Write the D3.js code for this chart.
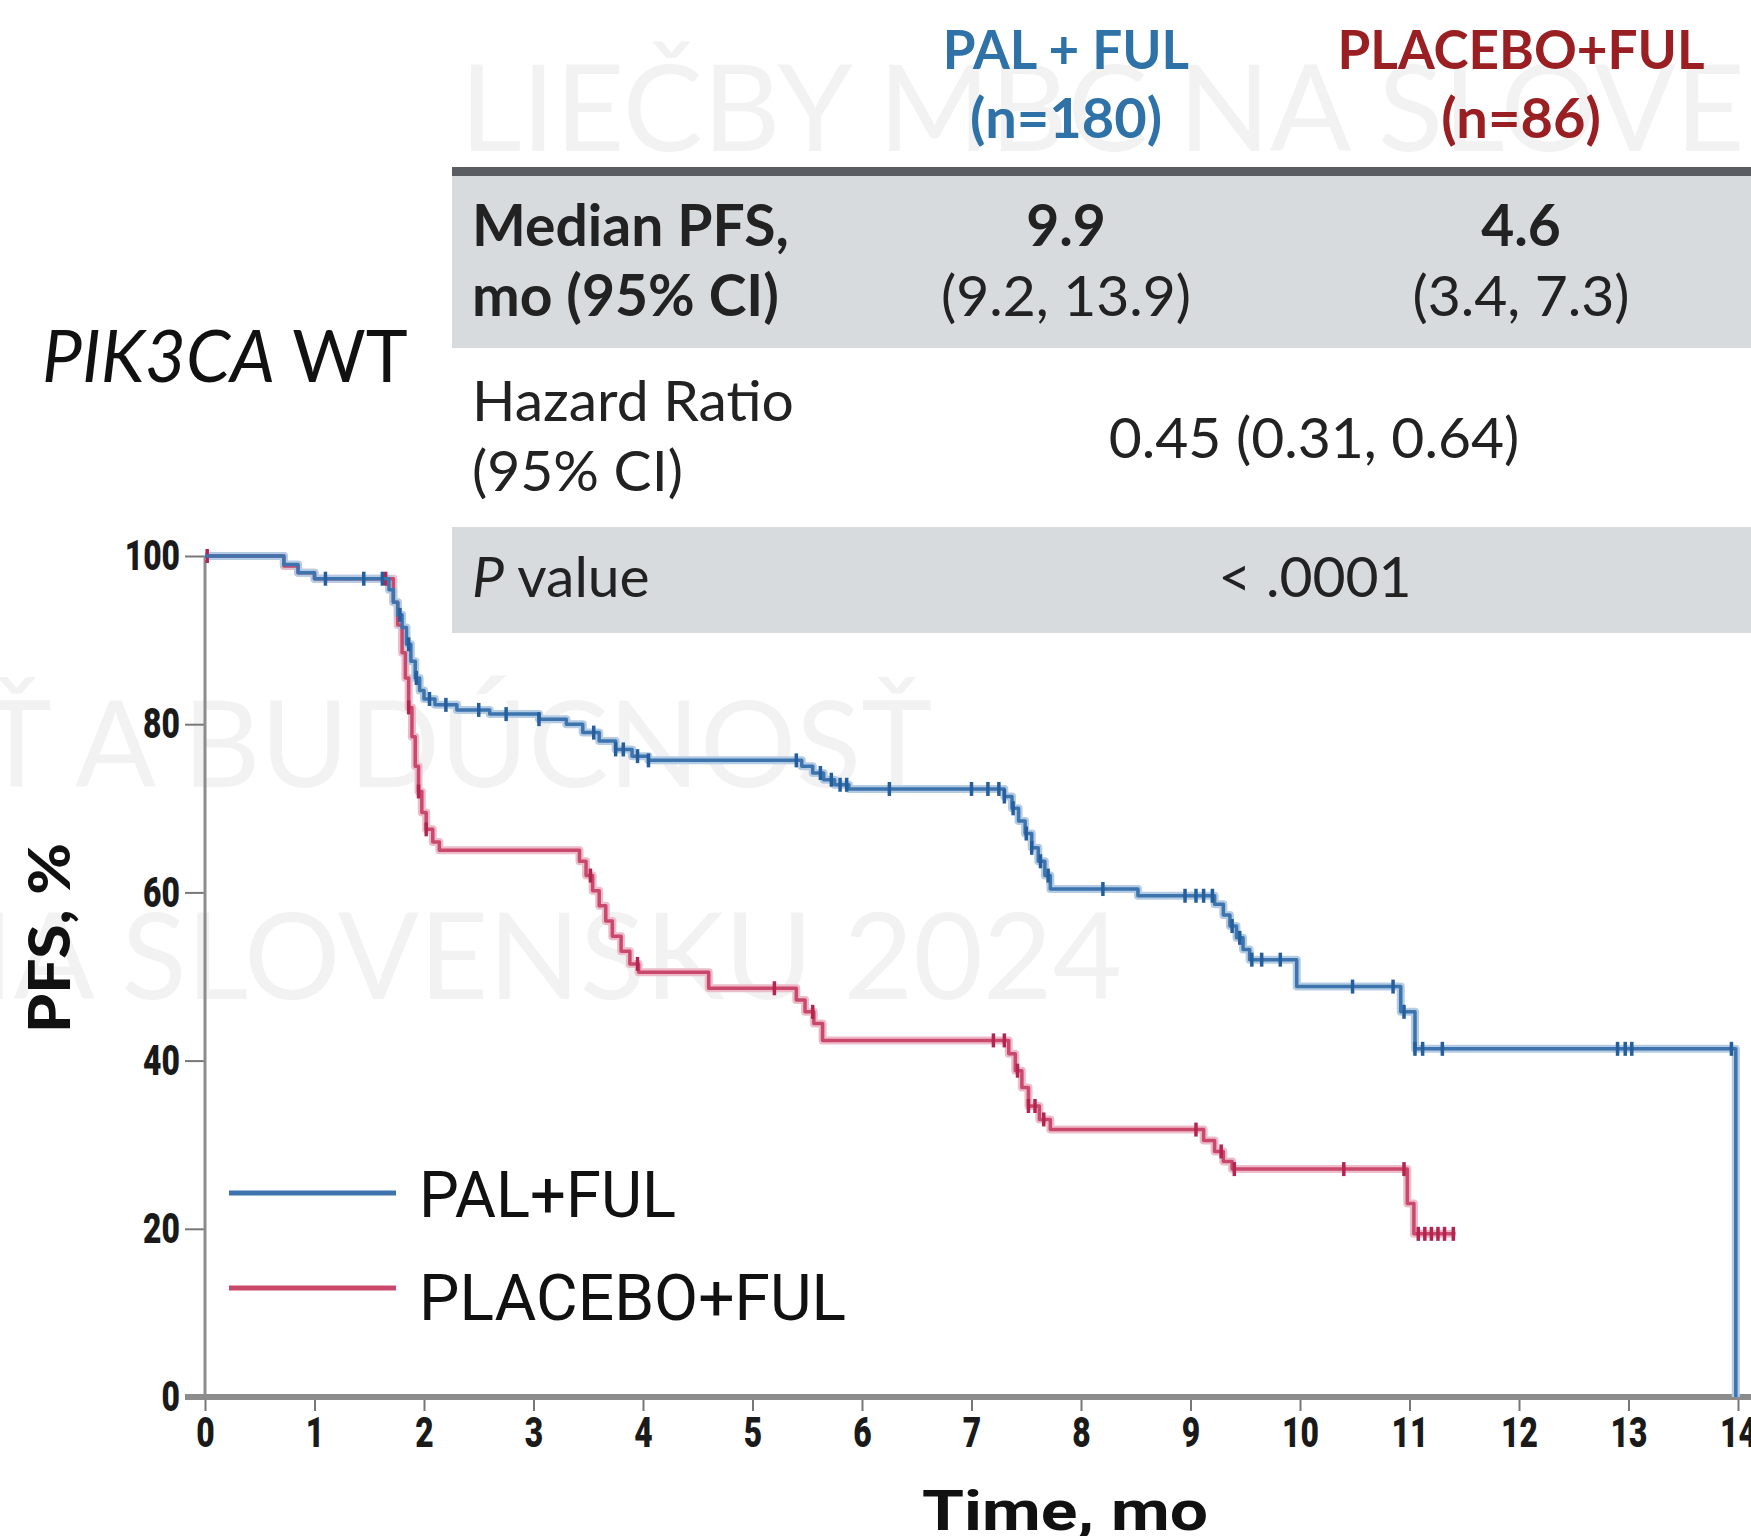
<!DOCTYPE html>
<meta charset="utf-8" />
<html>
<head>
<title>PIK3CA WT - PFS</title>
<script src="https://cdn.jsdelivr.net/npm/d3@7/dist/d3.min.js"></script>
<style>
  body { margin: 0; background: #fff; }
  svg text { font-family: "Lato", "Open Sans", sans-serif; }
</style>
</head>
<body>
<div id="viz"></div>
<script>

// Kaplan-Meier steps (time in months, PFS %)
var palTimes = [0, 0.72, 0.85, 1.0, 1.68, 1.72, 1.76, 1.8, 1.84, 1.88, 1.92, 1.96, 2.0, 2.1, 2.3, 2.6, 3.05, 3.3, 3.45, 3.6, 3.75, 3.9, 4.05,
                5.45, 5.55, 5.65, 5.75, 5.88, 7.3, 7.37, 7.43, 7.49, 7.55, 7.61, 7.67, 7.72, 8.52,
                9.22, 9.3, 9.36, 9.42, 9.48, 9.54, 9.97, 10.92, 11.05, 13.98];
var palSurv  = [100, 99, 98, 97.3, 96, 94.5, 93, 91.5, 89.5, 87.5, 85.5, 84, 83, 82.3, 81.7, 81.2, 80.6, 80, 79, 78, 77, 76.2, 75.7,
                75, 74.2, 73.4, 72.8, 72.3, 71.4, 70, 68.5, 67, 65.3, 63.7, 62, 60.4, 59.6,
                58.6, 57.3, 56, 54.6, 53.2, 52, 48.8, 45.8, 41.4, 0];
var palCensor = [1.1, 1.45, 1.62, 1.78, 1.86, 1.93, 2.05, 2.2, 2.5, 2.75, 3.05, 3.55, 3.75, 3.82, 3.95, 4.05,
                 5.4, 5.62, 5.72, 5.8, 5.86, 6.25, 7.0, 7.15, 7.25, 7.3, 7.38, 7.5, 7.55, 7.63, 7.7,
                 8.2, 8.95, 9.05, 9.12, 9.2, 9.38, 9.45, 9.56, 9.65, 9.82, 10.48, 10.85, 10.95,
                 11.05, 11.12, 11.3, 12.9, 12.97, 13.03, 13.94];

var plaTimes = [0, 0.72, 0.85, 1.0, 1.72, 1.76, 1.8, 1.83, 1.86, 1.89, 1.92, 1.95, 1.98, 2.02, 2.08, 2.14,
                3.42, 3.48, 3.54, 3.6, 3.66, 3.72, 3.8, 3.88, 3.96, 4.6, 5.4, 5.48, 5.56, 5.64,
                7.34, 7.4, 7.46, 7.52, 7.62, 7.72, 9.12, 9.22, 9.3, 9.38, 10.98, 11.04];
var plaSurv  = [100, 98.8, 98, 97.3, 94.5, 91.8, 88.5, 85.5, 82, 78.5, 75, 72, 69.5, 67.5, 66, 65,
                63.7, 62, 60.2, 58.4, 56.6, 54.8, 53, 51.5, 50.5, 48.6, 47.2, 45.8, 44.4, 42.4,
                40.8, 38.8, 36.8, 34.6, 33, 31.8, 30.5, 29.2, 28, 27.1, 23, 19.4];
var plaCensor = [0.02, 1.65, 1.86, 1.95, 2.02, 3.52, 3.95, 5.2, 5.55, 7.2, 7.3, 7.42, 7.52, 7.58, 7.66,
                 9.05, 9.28, 9.4, 10.4, 10.95, 11.08, 11.14, 11.2, 11.26, 11.32, 11.4];
var plaEnd = 11.42;

var xTicks = d3.range(0, 15);
var yTicks = [0, 20, 40, 60, 80, 100];

var arms = ["PAL + FUL", "PLACEBO+FUL"];
var armN = ["(n=180)", "(n=86)"];
var armLegend = ["PAL+FUL", "PLACEBO+FUL"];
var medianPFS = ["9.9", "4.6"];
var medianCI = ["(9.2, 13.9)", "(3.4, 7.3)"];
var hazardRatio = "0.45 (0.31, 0.64)";
var pValue = "< .0001";

var width = 1751,
    height = 1536;

var blue = "#3d74ad", blueDark = "#245e9c", blueHalo = "#b3cbe3";
var red = "#c9486c", redDark = "#b42450", redHalo = "#ecbccb";

var svg = d3.select("#viz").append("svg")
    .attr("width", width)
    .attr("height", height);

svg.append("rect").attr("width", width).attr("height", height).attr("fill", "#fff");

// faint watermark behind everything
var wm = svg.append("g")
    .attr("fill", "#f2f2f2")
    .style("font-family", "Roboto, sans-serif")
    .style("font-size", "120px");
wm.append("text").attr("x", 460).attr("y", 151).text("LIEČBY MBC NA SLOVENSKU");
wm.append("text").attr("x", 932).attr("y", 787).attr("text-anchor", "end").text("SÚČASNOSŤ A BUDÚCNOSŤ");
wm.append("text").attr("x", 1122).attr("y", 999).attr("text-anchor", "end").text("NA SLOVENSKU 2024");

var x = d3.scaleLinear().domain([0, 14]).range([205, 1738]);
var y = d3.scaleLinear().domain([0, 100]).range([1397, 556]);

// table
var colX = [1066, 1521];
var table = svg.append("g");
table.append("rect").attr("x", 452).attr("y", 176).attr("width", width - 452).attr("height", 172).attr("fill", "#d7dbde");
table.append("rect").attr("x", 452).attr("y", 527).attr("width", width - 452).attr("height", 106).attr("fill", "#d7dbde");
table.append("rect").attr("x", 452).attr("y", 167).attr("width", width - 452).attr("height", 9).attr("fill", "#5a5e62");

table.selectAll("text.arm")
  .data(arms)
  .enter().append("text")
    .attr("class", "arm")
    .attr("x", function(d, i) { return colX[i]; })
    .attr("y", 69)
    .attr("text-anchor", "middle")
    .attr("fill", function(d, i) { return i == 0 ? "#2f72a8" : "#9a1f22"; })
    .style("font-weight", 700)
    .style("font-size", "53px")
    .text(function(d) { return d; });

table.selectAll("text.n")
  .data(armN)
  .enter().append("text")
    .attr("class", "n")
    .attr("x", function(d, i) { return colX[i]; })
    .attr("y", 138)
    .attr("text-anchor", "middle")
    .attr("fill", function(d, i) { return i == 0 ? "#2f72a8" : "#9a1f22"; })
    .style("font-weight", 700)
    .style("font-size", "56px")
    .text(function(d) { return d; });

var body = table.append("g").attr("fill", "#222").style("font-size", "57px");
body.append("text").attr("x", 472).attr("y", 246).style("font-weight", 700).text("Median PFS,");
body.append("text").attr("x", 472).attr("y", 316).style("font-weight", 700).text("mo (95% CI)");
body.selectAll("text.med")
  .data(medianPFS)
  .enter().append("text")
    .attr("class", "med")
    .attr("x", function(d, i) { return colX[i]; })
    .attr("y", 246)
    .attr("text-anchor", "middle")
    .style("font-weight", 700)
    .text(function(d) { return d; });
body.selectAll("text.ci")
  .data(medianCI)
  .enter().append("text")
    .attr("class", "ci")
    .attr("x", function(d, i) { return colX[i]; })
    .attr("y", 316)
    .attr("text-anchor", "middle")
    .text(function(d) { return d; });

body.append("text").attr("x", 472).attr("y", 421).text("Hazard Ratio");
body.append("text").attr("x", 472).attr("y", 491).text("(95% CI)");
body.append("text").attr("x", 1314).attr("y", 458).attr("text-anchor", "middle").text(hazardRatio);

var pv = body.append("text").attr("x", 472).attr("y", 597);
pv.append("tspan").style("font-style", "italic").text("P");
pv.append("tspan").text(" value");
body.append("text").attr("x", 1315).attr("y", 597).attr("text-anchor", "middle").text(pValue);

// subgroup title
var ttl = svg.append("text").attr("x", 42).attr("y", 382).attr("fill", "#111").style("font-size", "71px");
ttl.append("tspan").style("font-style", "italic").text("PIK3CA");
ttl.append("tspan").text(" WT");

// axes
var gx = svg.append("g")
    .attr("transform", "translate(0," + y(0) + ")")
    .call(d3.axisBottom(x).tickValues(xTicks).tickSize(14).tickPadding(4).tickFormat(d3.format("d")));
var gy = svg.append("g")
    .attr("transform", "translate(" + x(0) + ",0)")
    .call(d3.axisLeft(y).tickValues(yTicks).tickSize(20).tickPadding(6));

gx.select(".domain").remove();
gy.select(".domain").remove();
gx.selectAll(".tick line").attr("stroke", "#777").attr("stroke-width", 2);
gy.selectAll(".tick line").attr("stroke", "#777").attr("stroke-width", 2);

gx.selectAll(".tick text")
    .attr("fill", "#1a1a1a")
    .style("font-family", "Roboto, sans-serif")
    .style("font-weight", 900)
    .style("font-size", "43px")
    .attr("dy", "0.75em")
    .attr("x", 0)
    .attr("transform", "scale(0.74,1)");
gy.selectAll(".tick text")
    .attr("fill", "#1a1a1a")
    .style("font-family", "Roboto, sans-serif")
    .style("font-weight", 900)
    .style("font-size", "43px")
    .attr("x", 0)
    .attr("transform", "translate(-25,0) scale(0.74,1)");

svg.append("line")
    .attr("x1", 185).attr("x2", width)
    .attr("y1", y(0)).attr("y2", y(0))
    .attr("stroke", "#8c8c8c").attr("stroke-width", 6);
svg.append("line")
    .attr("x1", x(0)).attr("x2", x(0))
    .attr("y1", y(100)).attr("y2", y(0))
    .attr("stroke", "#8c8c8c").attr("stroke-width", 3);

// axis titles
svg.append("text")
    .attr("transform", "translate(70," + 938 + ") rotate(-90)")
    .attr("text-anchor", "middle")
    .attr("fill", "#111")
    .style("font-weight", 900)
    .style("font-size", "58px")
    .attr("textLength", 190)
    .attr("lengthAdjust", "spacingAndGlyphs")
    .text("PFS, %");
svg.append("text")
    .attr("x", 1065).attr("y", 1530)
    .attr("text-anchor", "middle")
    .attr("fill", "#111")
    .style("font-family", "Roboto, sans-serif")
    .style("font-weight", 700)
    .style("font-size", "56px")
    .attr("textLength", 286)
    .attr("lengthAdjust", "spacingAndGlyphs")
    .text("Time, mo");

// curves
function survAt(times, surv, t) {
  var i = d3.bisectRight(times, t) - 1;
  return surv[Math.max(i, 0)];
}

var step = d3.line()
    .x(function(d) { return x(d[0]); })
    .y(function(d) { return y(d[1]); })
    .curve(d3.curveStepAfter);

var palPts = palTimes.map(function(t, i) { return [t, palSurv[i]]; });
var plaPts = plaTimes.map(function(t, i) { return [t, plaSurv[i]]; });
plaPts.push([plaEnd, plaSurv[plaSurv.length - 1]]);

var curves = [
  {pts: palPts, times: palTimes, surv: palSurv, censor: palCensor, c: blue, dark: blueDark, halo: blueHalo},
  {pts: plaPts, times: plaTimes, surv: plaSurv, censor: plaCensor, c: red, dark: redDark, halo: redHalo}
];

var g = svg.append("g");
curves.slice().reverse().forEach(function(cv) {
  g.append("path").attr("d", step(cv.pts)).attr("fill", "none")
    .attr("stroke", cv.halo).attr("stroke-width", 8).attr("stroke-linejoin", "round");
});
curves.slice().reverse().forEach(function(cv) {
  g.append("path").attr("d", step(cv.pts)).attr("fill", "none")
    .attr("stroke", cv.c).attr("stroke-width", 3.5).attr("stroke-linejoin", "round");
  g.selectAll(null)
    .data(cv.censor)
    .enter().append("line")
      .attr("x1", function(d) { return x(d); })
      .attr("x2", function(d) { return x(d); })
      .attr("y1", function(d) { return y(survAt(cv.times, cv.surv, d)) - 7; })
      .attr("y2", function(d) { return y(survAt(cv.times, cv.surv, d)) + 7; })
      .attr("stroke", cv.dark)
      .attr("stroke-width", 3.5);
});

// legend
var leg = svg.append("g");
leg.selectAll("line")
  .data(armLegend)
  .enter().append("line")
    .attr("x1", 229).attr("x2", 396)
    .attr("y1", function(d, i) { return 1193 + i * 95; })
    .attr("y2", function(d, i) { return 1193 + i * 95; })
    .attr("stroke", function(d, i) { return curves[i].c; })
    .attr("stroke-width", 5);
leg.selectAll("text")
  .data(armLegend)
  .enter().append("text")
    .attr("x", 419)
    .attr("y", function(d, i) { return 1217 + i * 103; })
    .attr("fill", "#111")
    .style("font-family", "Roboto, sans-serif")
    .style("font-size", "64px")
    .attr("textLength", function(d, i) { return i == 0 ? 257 : 427; })
    .attr("lengthAdjust", "spacingAndGlyphs")
    .text(function(d) { return d; });

</script>
</body>
</html>
